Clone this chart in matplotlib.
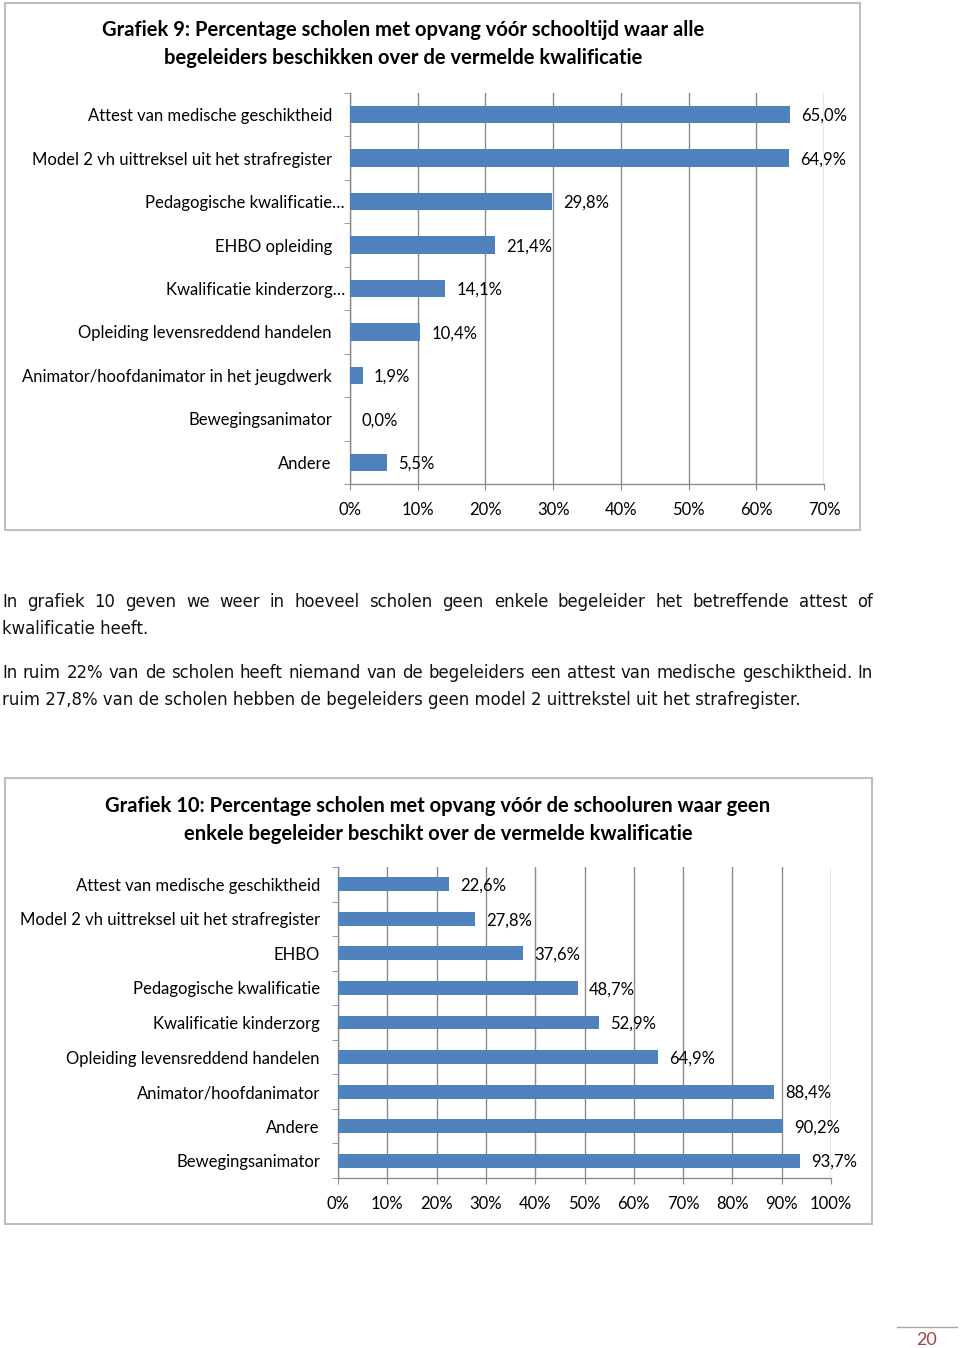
import matplotlib
matplotlib.use('Agg')
import matplotlib.pyplot as plt
import matplotlib.patches as mpatches
import matplotlib.transforms as mtransforms
from matplotlib.lines import Line2D

# ── Data ────────────────────────────────────────────────────────────────────
title9 = ("Grafiek 9: Percentage scholen met opvang vóór schooltijd waar alle\n"
          "begeleiders beschikken over de vermelde kwalificatie")
cats9 = ["Attest van medische geschiktheid",
         "Model 2 vh uittreksel uit het strafregister",
         "Pedagogische kwalificatie…",
         "EHBO opleiding",
         "Kwalificatie kinderzorg…",
         "Opleiding levensreddend handelen",
         "Animator/hoofdanimator in het jeugdwerk",
         "Bewegingsanimator",
         "Andere"]
vals9 = [65.0, 64.9, 29.8, 21.4, 14.1, 10.4, 1.9, 0.0, 5.5]
ticks9 = [0, 10, 20, 30, 40, 50, 60, 70]

title10 = ("Grafiek 10: Percentage scholen met opvang vóór de schooluren waar geen\n"
           "enkele begeleider beschikt over de vermelde kwalificatie")
cats10 = ["Attest van medische geschiktheid",
          "Model 2 vh uittreksel uit het strafregister",
          "EHBO",
          "Pedagogische kwalificatie",
          "Kwalificatie kinderzorg",
          "Opleiding levensreddend handelen",
          "Animator/hoofdanimator",
          "Andere",
          "Bewegingsanimator"]
vals10 = [22.6, 27.8, 37.6, 48.7, 52.9, 64.9, 88.4, 90.2, 93.7]
ticks10 = [0, 10, 20, 30, 40, 50, 60, 70, 80, 90, 100]

para1 = ("In grafiek 10 geven we weer in hoeveel scholen geen enkele begeleider "
         "het betreffende attest of", "kwalificatie heeft.")
para2 = ("In ruim 22% van de scholen heeft niemand van de begeleiders een attest "
         "van medische geschiktheid. In",
         "ruim 27,8% van de scholen hebben de begeleiders geen model 2 "
         "uittrekstel uit het strafregister.")
page_no = "20"

# ── Style ───────────────────────────────────────────────────────────────────
W, H = 960, 1348
BAR = "#4f81bd"
GRID = "#8c8c8c"
FRAME = "#bfbfbf"
CHART_FONT = "Lato"
BODY_FONT = "DejaVu Sans"


def fx(x):
    return x / W


def fy(y):
    return 1 - y / H


fig = plt.figure(figsize=(W / 100, H / 100), dpi=100)
fig.patch.set_facecolor("white")


def bar_chart(frame, axbox, title, title_y, cats, vals, ticks):
    # frame around the chart
    x0, y0, x1, y1 = frame
    fig.patches.append(mpatches.Rectangle((fx(x0), fy(y1)), fx(x1 - x0), (y1 - y0) / H,
                                          transform=fig.transFigure, fill=False,
                                          edgecolor=FRAME, linewidth=1.5))
    left, right, top, bottom, title_x = axbox
    fig.text(fx(title_x), fy(title_y), title,
             ha="center", va="center", fontsize=14.5, fontweight="bold",
             family=CHART_FONT, linespacing=1.45)

    ax = fig.add_axes([fx(left), fy(bottom), fx(right - left), (bottom - top) / H])
    y = list(range(len(cats)))
    ax.barh(y, vals, height=0.4, color=BAR, zorder=3)
    ax.set_xlim(ticks[0], ticks[-1])
    ax.set_ylim(len(cats) - 0.5, -0.5)

    ax.set_xticks(ticks)
    ax.set_xticklabels([f"{t}%" for t in ticks], family=CHART_FONT, fontsize=12)
    ax.set_yticks(y)
    ax.set_yticklabels(cats, family=CHART_FONT, fontsize=12)
    ax.set_yticks([i - 0.5 for i in range(len(cats) + 1)], minor=True)
    ax.tick_params(axis="y", which="major", length=0, pad=13)
    ax.tick_params(axis="y", which="minor", length=4, color=GRID, direction="out")
    ax.tick_params(axis="x", length=4, color=GRID, pad=9)

    for lbl in ax.get_yticklabels():
        if lbl.get_text().endswith("…"):
            lbl.set_transform(lbl.get_transform() +
                              mtransforms.ScaledTranslation(13 / 100, 0, fig.dpi_scale_trans))

    ax.grid(axis="x", color=GRID, linewidth=1.0, zorder=0)
    ax.set_axisbelow(True)
    for s in ("top", "right"):
        ax.spines[s].set_visible(False)
    for s in ("left", "bottom"):
        ax.spines[s].set_color(GRID)
        ax.spines[s].set_linewidth(1.0)

    for yi, v in zip(y, vals):
        ax.annotate(f"{v:.1f}".replace(".", ",") + "%", (v, yi),
                    xytext=(8, -1), textcoords="offset points",
                    ha="left", va="center", family=CHART_FONT, fontsize=12)
    return ax


bar_chart((5, 3, 860, 530), (350, 824, 93, 484, 403), title9, 44,
          cats9, vals9, ticks9)
bar_chart((5, 778, 872, 1224), (338, 831, 867, 1178, 438), title10, 820,
          cats10, vals10, ticks10)

# ── Body text ───────────────────────────────────────────────────────────────
renderer = fig.canvas.get_renderer()
body_kw = dict(family=BODY_FONT, fontsize=11.9, va="center_baseline", ha="left",
               color="#111111")


def justified(text, x0, x1, y):
    words = text.split()
    objs = [fig.text(0, fy(y), w, **body_kw) for w in words]
    widths = [o.get_window_extent(renderer).width for o in objs]
    gap = ((x1 - x0) - sum(widths)) / (len(words) - 1)
    x = x0
    for o, w in zip(objs, widths):
        o.set_x(fx(x))
        x += w + gap


justified(para1[0], 2, 873, 600)
fig.text(fx(2), fy(627), para1[1], **body_kw)
justified(para2[0], 2, 873, 671)
fig.text(fx(2), fy(698), para2[1], **body_kw)

# ── Page number ─────────────────────────────────────────────────────────────
fig.lines.append(Line2D([fx(897), fx(957)], [fy(1327), fy(1327)],
                        transform=fig.transFigure, color="#a6a6a6", linewidth=1.0))
fig.text(fx(927), fy(1340), page_no, ha="center", va="center", fontsize=13,
         family=CHART_FONT, color="#a0454b")

fig.savefig("out.png", dpi=100, facecolor="white")
